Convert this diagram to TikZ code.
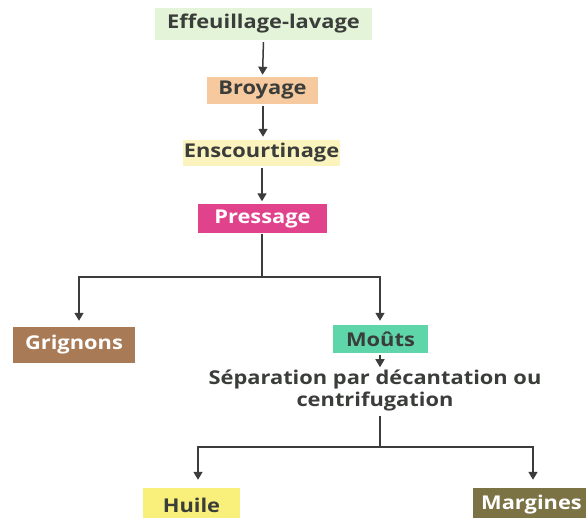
\documentclass[tikz,border=0pt]{standalone}
\usepackage{fontspec}
\setmainfont{Open Sans}[FakeStretch=1.15]
\usetikzlibrary{arrows.meta}
\definecolor{txt}{HTML}{3A3D3A}
\definecolor{cEff}{HTML}{E4F4D8}
\definecolor{cBro}{HTML}{F6C99E}
\definecolor{cEns}{HTML}{FCF4BE}
\definecolor{cPre}{HTML}{E0438B}
\definecolor{cGri}{HTML}{A87A55}
\definecolor{cMou}{HTML}{5ED6A9}
\definecolor{cHui}{HTML}{F8F07A}
\definecolor{cMar}{HTML}{7C7345}
\tikzset{
  box/.style={inner sep=0pt, text=txt, font=\fontsize{19}{22}\selectfont\bfseries},
  arr/.style={draw=txt, line width=1.5pt, -{Triangle[length=8pt,width=9pt]}},
  ln/.style={draw=txt, line width=1.5pt}
}
\begin{document}
\begin{tikzpicture}[x=1pt,y=-1pt]
\useasboundingbox[fill=white] (0,0) rectangle (586,518);
\node[box, fill=cEff, minimum width=217pt, minimum height=32pt] (eff) at (263.5,24) {Effeuillage-lavage};
\node[box, fill=cBro, minimum width=111pt, minimum height=27pt] (bro) at (262.5,90.5) {Broyage};
\node[box, fill=cEns, minimum width=157pt, minimum height=26pt] (ens) at (261.5,153) {Enscourtinage};
\node[box, fill=cPre, text=white, minimum width=129pt, minimum height=29pt] (pre) at (262.5,219) {Pressage};
\node[box, fill=cGri, text=white, minimum width=122pt, minimum height=36pt] (gri) at (74,345) {Grignons};
\node[box, fill=cMou, minimum width=95pt, minimum height=28pt] (mou) at (380.5,339) {Moûts};
\node[box, align=center] (sep) at (375,391) {Séparation par décantation ou\\centrifugation};
\node[box, fill=cHui, minimum width=97pt, minimum height=34pt] (hui) at (191.5,505) {Huile};
\node[box, fill=cMar, text=white, minimum width=117pt, minimum height=34pt] (mar) at (531.5,505) {Margines};
\coordinate (j1) at (262,277);
\coordinate (j2) at (380,447);
\draw[arr, shorten <=2pt, shorten >=2pt] (eff.south) -- (bro.north);
\draw[arr, shorten <=2pt, shorten >=3pt] ([xshift=0.5pt]bro.south) -- ([xshift=1.5pt]ens.north);
\draw[arr, shorten <=2pt, shorten >=3pt] ([xshift=0.5pt]ens.south) -- ([xshift=-0.5pt]pre.north);
\draw[ln] ([xshift=-0.5pt]pre.south) -- (j1);
\draw[arr, shorten >=6pt] (j1) -| ([xshift=5pt]gri.north);
\draw[arr, shorten >=4pt] (j1) -| ([xshift=-0.5pt]mou.north);
\draw[arr, shorten <=2pt, shorten >=3pt] ([xshift=-0.5pt]mou.south) -- ([xshift=5pt]sep.north);
\draw[ln] ([xshift=5pt]sep.south) ++(0,4) -- (j2);
\draw[arr, shorten >=8pt] (j2) -| ([xshift=6.5pt]hui.north);
\draw[arr, shorten >=8pt] (j2) -| ([xshift=1.5pt]mar.north);
\end{tikzpicture}
\end{document}
